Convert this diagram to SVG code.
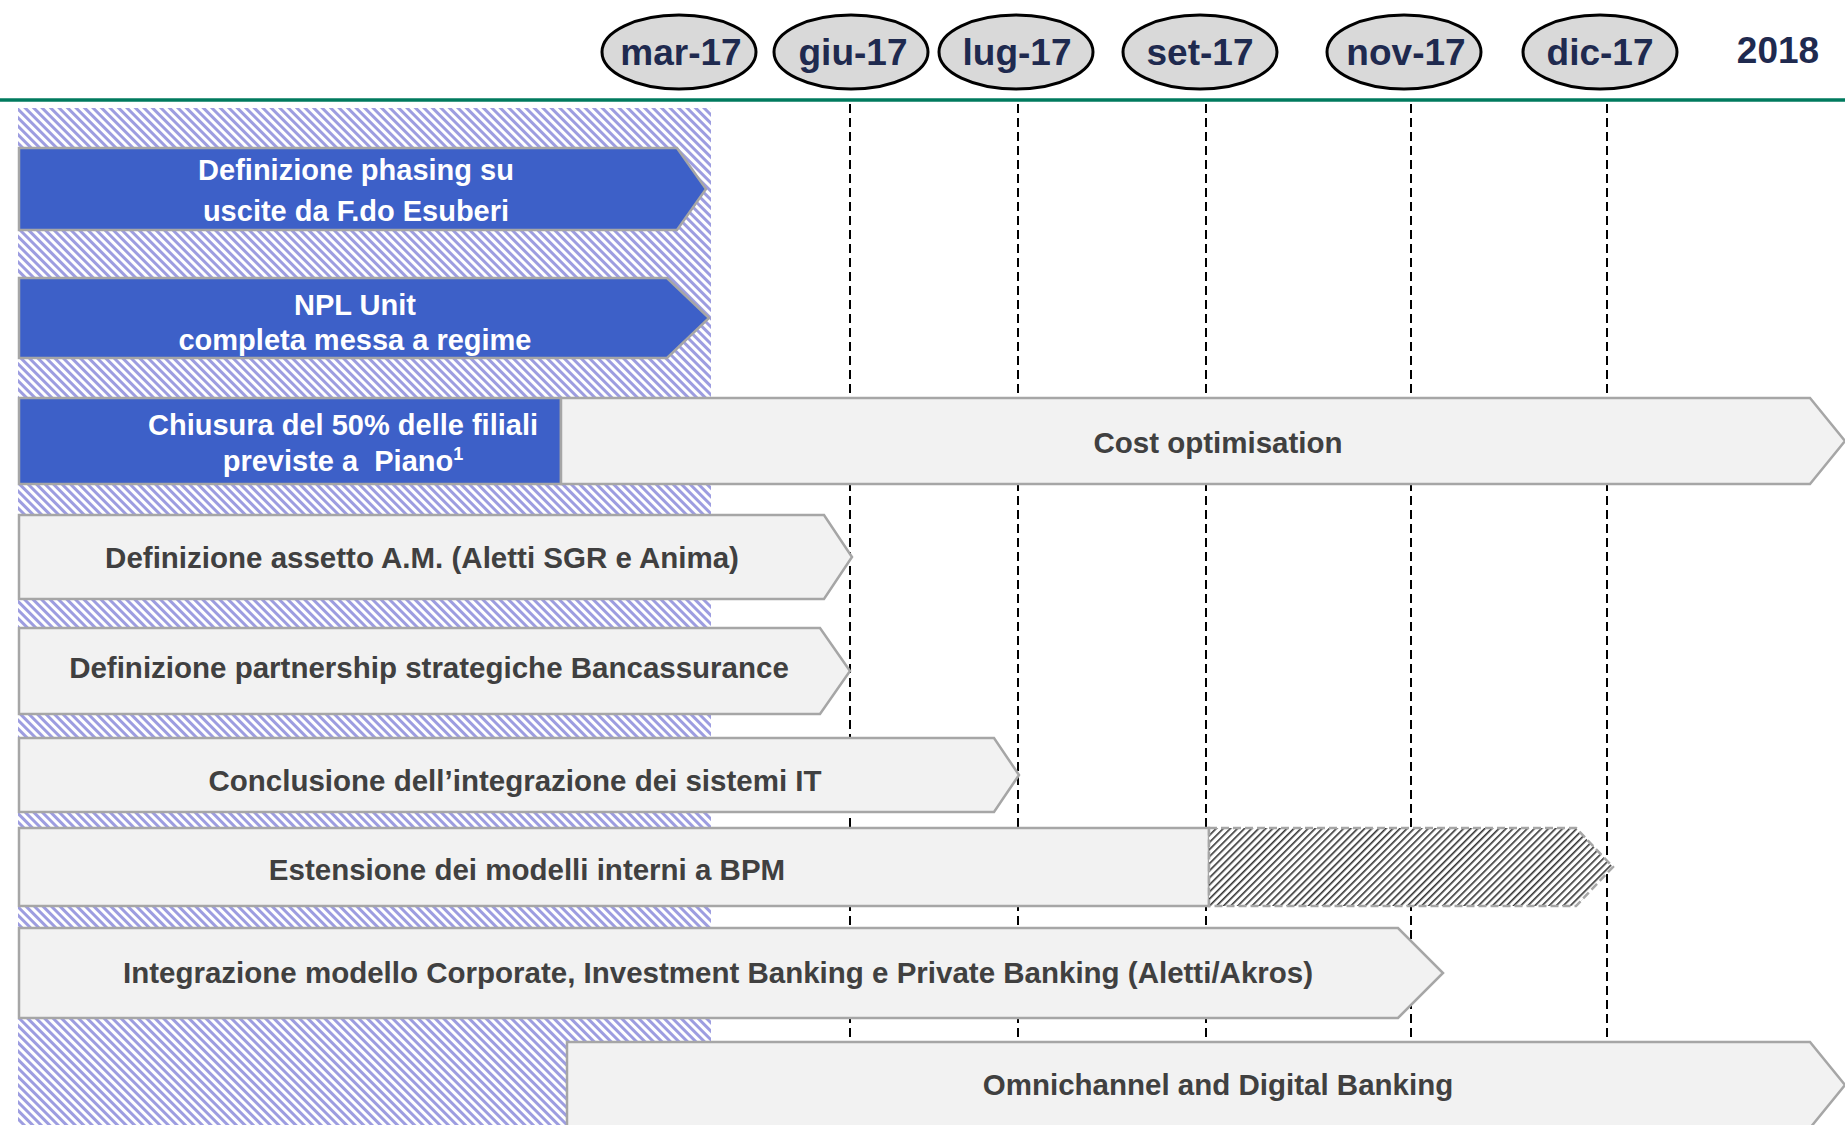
<svg xmlns="http://www.w3.org/2000/svg" width="1845" height="1125" viewBox="0 0 1845 1125">
<style>
.hdr{fill:#d9d9d9;stroke:#000;stroke-width:3}
.hdrt{font-family:"Liberation Sans",Arial,sans-serif;font-weight:bold;font-size:37px;fill:#1f2a4f;text-anchor:middle}
.grid{stroke:#000;stroke-width:2;stroke-dasharray:9 5;fill:none}
.blue{fill:#3d60c8;stroke:#a6a6a6;stroke-width:2.5}
.light{fill:#f2f2f2;stroke:#a6a6a6;stroke-width:2.5}
.hatchbar{fill:url(#darkHatch);stroke:#a6a6a6;stroke-width:2.5;stroke-dasharray:8 4}
.wt{font-family:"Liberation Sans",Arial,sans-serif;font-weight:bold;font-size:29px;fill:#fff;text-anchor:middle}
.gt{font-family:"Liberation Sans",Arial,sans-serif;font-weight:bold;font-size:29.5px;fill:#404040;text-anchor:middle}
</style>
<defs>
<pattern id="blueHatch" patternUnits="userSpaceOnUse" width="6" height="6" patternTransform="rotate(-45)">
<rect width="6" height="6" fill="#ffffff"/>
<rect width="3" height="6" fill="#9d9de0"/>
</pattern>
<pattern id="darkHatch" patternUnits="userSpaceOnUse" width="5" height="5" patternTransform="rotate(45)">
<rect width="5" height="5" fill="#ffffff"/>
<rect width="1.6" height="5" fill="#333333"/>
</pattern>
</defs>
<rect width="1845" height="1125" fill="#ffffff"/>
<g id="header">
<g id="h-mar17"><ellipse class="hdr" cx="679" cy="52" rx="77" ry="37"/><text class="hdrt" x="681" y="65">mar-17</text></g>
<g id="h-giu17"><ellipse class="hdr" cx="851" cy="52" rx="77" ry="37"/><text class="hdrt" x="853" y="65">giu-17</text></g>
<g id="h-lug17"><ellipse class="hdr" cx="1016" cy="52" rx="77" ry="37"/><text class="hdrt" x="1017" y="65">lug-17</text></g>
<g id="h-set17"><ellipse class="hdr" cx="1200" cy="52" rx="77" ry="37"/><text class="hdrt" x="1200" y="65">set-17</text></g>
<g id="h-nov17"><ellipse class="hdr" cx="1404" cy="52" rx="77" ry="37"/><text class="hdrt" x="1406" y="65">nov-17</text></g>
<g id="h-dic17"><ellipse class="hdr" cx="1600" cy="52" rx="77" ry="37"/><text class="hdrt" x="1600" y="65">dic-17</text></g>
<g id="h-2018"><text class="hdrt" x="1778" y="63">2018</text></g>
<line x1="0" y1="100" x2="1845" y2="100" stroke="#007a5e" stroke-width="3.5"/>
</g>
<g id="phase-area"><rect x="18" y="108" width="693" height="1020" fill="url(#blueHatch)"/></g>
<g id="connectors">
<line class="grid" x1="850" y1="104" x2="850" y2="1038"/>
<line class="grid" x1="1018" y1="104" x2="1018" y2="1038"/>
<line class="grid" x1="1206" y1="104" x2="1206" y2="1038"/>
<line class="grid" x1="1411" y1="104" x2="1411" y2="1038"/>
<line class="grid" x1="1607" y1="104" x2="1607" y2="1038"/>
</g>
<g id="n-phasing">
<polygon class="blue" points="19,148 677,148 706,189 677,230 19,230"/>
<text class="wt" x="356" y="180">Definizione phasing su</text>
<text class="wt" x="356" y="221">uscite da F.do Esuberi</text>
</g>
<g id="n-npl">
<polygon class="blue" points="19,278 667,278 709,318 667,358 19,358"/>
<text class="wt" x="355" y="315">NPL Unit</text>
<text class="wt" x="355" y="350">completa messa a regime</text>
</g>
<g id="n-chiusura">
<rect class="blue" x="19" y="398" width="542" height="86"/>
<text class="wt" x="343" y="435">Chiusura del 50% delle filiali</text>
<text class="wt" x="343" y="471">previste a&#160; Piano<tspan font-size="18" dy="-11">1</tspan></text>
</g>
<g id="n-cost">
<polygon class="light" points="561,398 1810,398 1845,441 1810,484 561,484"/>
<text class="gt" x="1218" y="453">Cost optimisation</text>
</g>
<g id="n-assetto">
<polygon class="light" points="19,515 824,515 852,557 824,599 19,599"/>
<text class="gt" x="422" y="568">Definizione assetto A.M. (Aletti SGR e Anima)</text>
</g>
<g id="n-bancassurance">
<polygon class="light" points="19,628 820,628 850,671 820,714 19,714"/>
<text class="gt" x="429" y="678">Definizione partnership strategiche Bancassurance</text>
</g>
<g id="n-it">
<polygon class="light" points="19,738 994,738 1019,775 994,812 19,812"/>
<text class="gt" x="515" y="791">Conclusione dell’integrazione dei sistemi IT</text>
</g>
<g id="n-modelli">
<rect class="light" x="19" y="828" width="1190" height="78"/>
<polygon class="hatchbar" points="1209,828 1576,828 1613,867 1576,906 1209,906"/>
<text class="gt" x="527" y="880">Estensione dei modelli interni a BPM</text>
</g>
<g id="n-corporate">
<polygon class="light" points="19,928 1398,928 1443,973 1398,1018 19,1018"/>
<text class="gt" x="718" y="983">Integrazione modello Corporate, Investment Banking e Private Banking (Aletti/Akros)</text>
</g>
<g id="n-omnichannel">
<polygon class="light" points="567,1042 1810,1042 1845,1085 1810,1128 567,1128"/>
<text class="gt" x="1218" y="1095">Omnichannel and Digital Banking</text>
</g>
</svg>
